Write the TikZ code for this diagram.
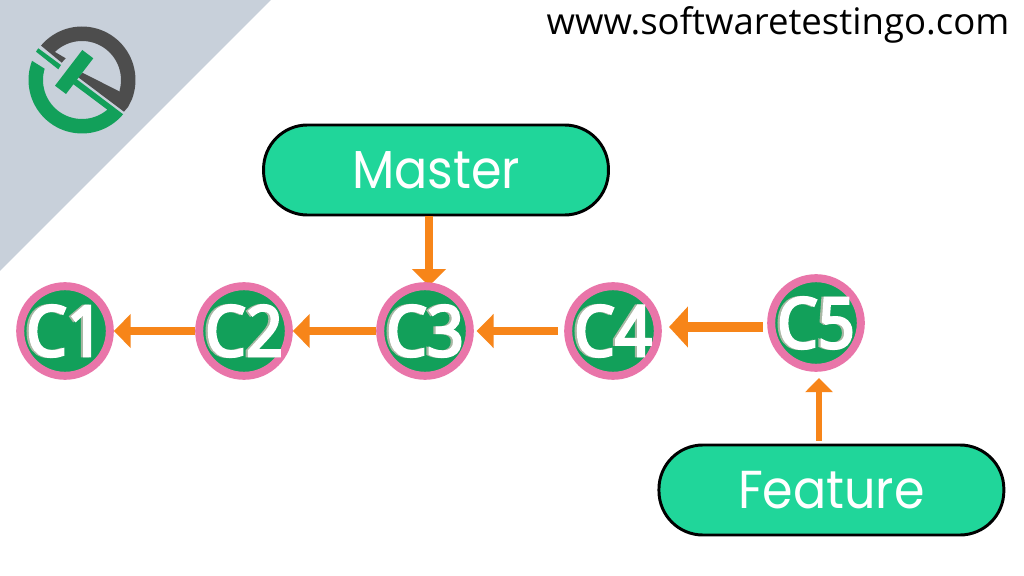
\documentclass[tikz,border=0pt]{standalone}
\usepackage{xcolor}
\usepackage{fontspec}
\usepackage{tikz}
\usetikzlibrary{arrows.meta}
\newfontfamily\branchfont[FakeStretch=0.92]{Poppins}
\newfontfamily\commitfont[FakeStretch=0.92,FakeBold=3.6]{Noto Sans}
\newfontfamily\sitefont{Open Sans}
\definecolor{slatebg}{HTML}{C8D0DA}
\definecolor{logogreen}{HTML}{12A05A}
\definecolor{logodark}{HTML}{4D4D4D}
\definecolor{tealfill}{HTML}{20D69A}
\definecolor{pinkring}{HTML}{E975A9}
\definecolor{flowcol}{HTML}{F78519}
\definecolor{shade}{HTML}{A9B7A4}
\newcommand{\shadowed}[1]{\makebox[0pt]{\kern-3.2pt\textcolor{shade}{#1}}\makebox[0pt]{\textcolor{white}{#1}}}

\begin{document}
\begin{tikzpicture}[x=0.025cm,y=-0.025cm,
            commit/.style={shape=circle, inner sep=0pt, minimum size=2.24cm, draw=pinkring, line width=5.7pt, fill=logogreen, font=\commitfont\fontsize{50}{50}\selectfont},
            branch/.style={rectangle, rounded corners=1.1cm, minimum width=8.62cm, minimum height=2.25cm, draw=black, line width=2.1pt, fill=tealfill, text=white, font=\branchfont\fontsize{38}{38}\selectfont},
            flow/.style={draw=flowcol, line width=5.7pt, -{Triangle[length=12pt,width=23.5pt,fill=flowcol]}},
            flowbig/.style={draw=flowcol, line width=7pt, -{Triangle[length=13.5pt,width=28.5pt,fill=flowcol]}},
            flowup/.style={draw=flowcol, line width=4.8pt, -{Triangle[length=10pt,width=19pt,fill=flowcol]}}]
        \useasboundingbox (0,0) rectangle (1024,576);
        \fill[white] (0,0) rectangle (1024,576);

        \fill[slatebg] (0,0) -- (271,0) -- (0,271) -- cycle;

        % logo
        \fill[logodark] plot[domain=-140:21,samples=40] ({82+53.5*cos(\x)},{80+53.5*sin(\x)})
            -- (128,107) -- (124,111.7) -- (78.3,77.3) -- (82.3,72.7) -- (120,91.7)
            -- plot[domain=15.5:-134,samples=40] ({82+39*cos(\x)},{80+39*sin(\x)})
            -- (65.7,58.3) -- (61.7,62.7) -- cycle;
        \fill[logogreen] plot[domain=201:39.8,samples=40] ({82+53.5*cos(\x)},{80+53.5*sin(\x)})
            -- (76.8,79.3) -- (73.2,84.1) -- (106.7,109.2)
            -- plot[domain=48.8:196.8,samples=40] ({82+39*cos(\x)},{80+39*sin(\x)}) -- cycle;
        \fill[logogreen] (36,51.7) -- (38.3,48.3) -- (61,65) -- (58.3,69.3) -- cycle;
        \fill[logogreen] (82.3,50) -- (93.3,58.3) -- (66,94) -- (55,85.7) -- cycle;

        \node (site) at (778,25) {\sitefont\fontsize{26}{26}\selectfont www.softwaretestingo.com};

        \node[branch] (master) at (436,170) {Master};
        \node[branch] (feature) at (831.4,490) {Feature};

        \coordinate (mastertap) at (429,286);
        \coordinate (featuretap) at (819,378);
        \coordinate (c5tail) at (763,327);
        \coordinate (c4tip) at (669,327);

        \draw[flow] (mastertap |- master.south) -- (mastertap);

        \node[commit] (c1) at (65,331) {\shadowed{C1}};
        \node[commit] (c2) at (244,331) {\shadowed{C2}};
        \node[commit] (c3) at (425,331) {\shadowed{C3}};
        \node[commit] (c4) at (613,331) {\shadowed{C4}};
        \node[commit] (c5) at (816,323) {\shadowed{C5}};

        \draw[flow] (c2) -- (c1);
        \draw[flow] (c3) -- (c2);
        \draw[flow,shorten <=4.5pt,shorten >=2pt] (c4) -- (c3);
        \draw[flowbig] (c5tail) -- (c4tip);
        \draw[flowup,shorten <=2pt] (featuretap |- feature.north) -- (featuretap);
    \end{tikzpicture}
\end{document}
